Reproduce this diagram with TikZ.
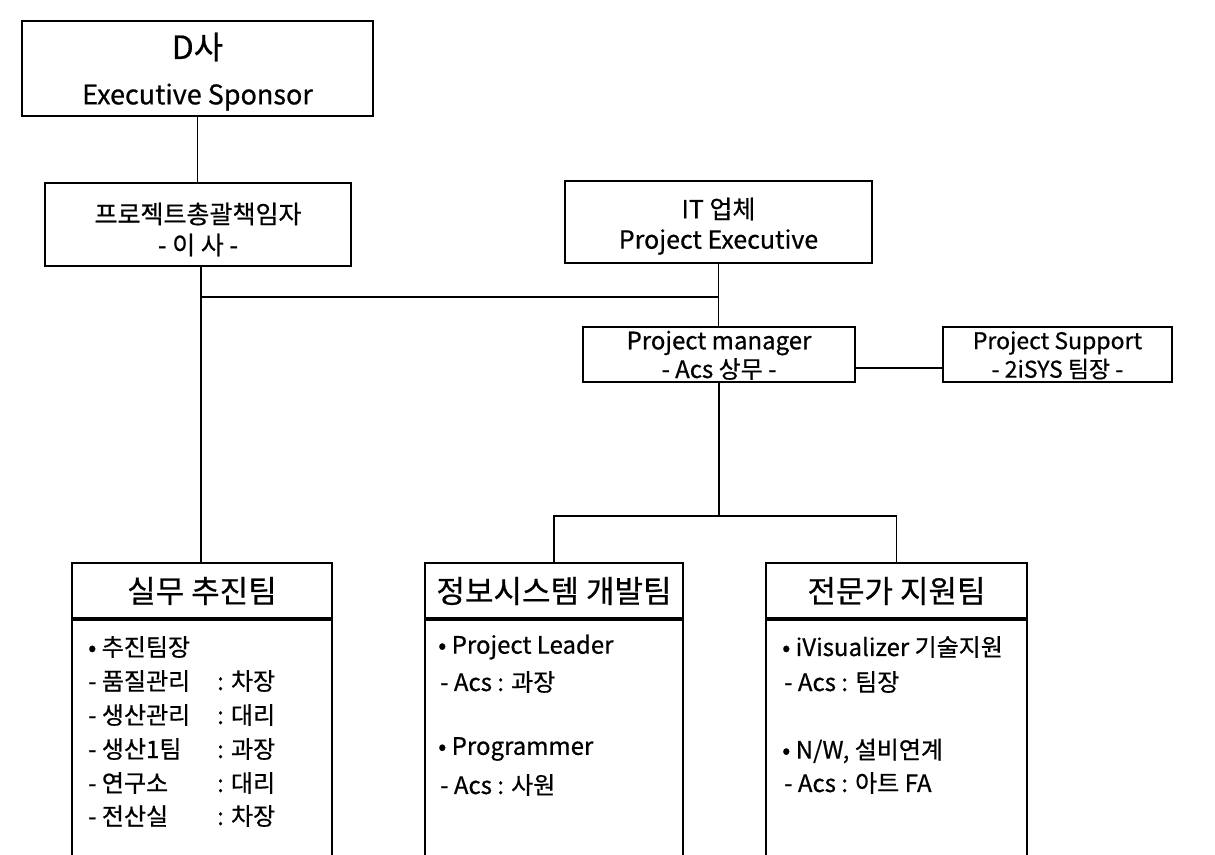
\documentclass[tikz,border=0pt]{standalone}
\usepackage{fontspec}
\setmainfont{Noto Sans CJK KR}[FakeBold=1]
\newfontfamily\gfont{Noto Sans CJK KR}[FakeBold=0.6]
\begin{document}
\begin{tikzpicture}[x=1pt,y=-1pt,
  box/.style={draw, line width=2pt, inner sep=0pt},
  conn/.style={line width=1.8pt},
  fs/.style={font=\gfont\fontsize{#1}{#1}\selectfont},
  txt/.style={inner sep=0pt, fs=25},
  ttl/.style={inner sep=0pt, fs=31},
  item/.style={inner sep=0pt, anchor=west, fs=24}]
\useasboundingbox (0,0) rectangle (1215,854);
\clip (0,0) rectangle (1215,854);
\fill[white] (0,0) rectangle (1215,854);

% top-left boxes
\node[box, minimum width=351pt, minimum height=95pt] (ds) at (197.5,68) {};
\node[txt, fs=32] (dsa) at (197.5,47) {D사};
\node[txt, fs=27] (dsb) at (197.5,97) {Executive Sponsor};

\node[box, minimum width=306pt, minimum height=83pt] (chief) at (198,224.5) {};
\node[txt] (chiefa) at (198,214) {프로젝트총괄책임자};
\node[txt] (chiefb) at (198,245) {- 이 사 -};

% IT vendor
\node[box, minimum width=307pt, minimum height=82pt] (it) at (718.5,222) {};
\node[txt] (ita) at (718.5,209) {IT 업체};
\node[txt] (itb) at (718.5,242) {Project Executive};

\node[box, minimum width=272pt, minimum height=55pt] (pm) at (719,354.5) {};
\node[txt, fs=24] (pma) at (719,343) {Project manager};
\node[txt, fs=24] (pmb) at (719,369) {- Acs 상무 -};

\node[box, minimum width=229pt, minimum height=55pt] (ps) at (1057.5,354.5) {};
\node[txt, fs=23] (psa) at (1057.5,343) {Project Support};
\node[txt, fs=23] (psb) at (1057.5,369) {- 2iSYS 팀장 -};

% team boxes
\node[box, minimum width=260pt, minimum height=55pt] (t1) at (202,590.5) {};
\node[box, minimum width=260pt, minimum height=282pt, anchor=north] (b1) at (t1.south) {};
\node[ttl] (t1t) at (202,591) {실무 추진팀};

\node[box, minimum width=258pt, minimum height=55pt] (t2) at (554,590.5) {};
\node[box, minimum width=258pt, minimum height=282pt, anchor=north] (b2) at (t2.south) {};
\node[ttl] (t2t) at (554,591) {정보시스템 개발팀};

\node[box, minimum width=261pt, minimum height=55pt] (t3) at (896.5,590.5) {};
\node[box, minimum width=261pt, minimum height=282pt, anchor=north] (b3) at (t3.south) {};
\node[ttl] (t3t) at (896.5,591) {전문가 지원팀};

% team 1 items
\node[item] (i1a) at (88,647) {• 추진팀장};
\node[item] (i1b) at (88,681) {- 품질관리};
\node[item] (i1c) at (88,715) {- 생산관리};
\node[item] (i1d) at (88,749) {- 생산1팀};
\node[item] (i1e) at (88,783) {- 연구소};
\node[item] (i1f) at (88,816) {- 전산실};
\node[item] (r1b) at (217,681) {: 차장};
\node[item] (r1c) at (217,715) {: 대리};
\node[item] (r1d) at (217,749) {: 과장};
\node[item] (r1e) at (217,783) {: 대리};
\node[item] (r1f) at (217,816) {: 차장};

% team 2 items
\node[item] (i2a) at (438,647) {• Project Leader};
\node[item] (i2b) at (440,682) {- Acs : 과장};
\node[item] (i2c) at (438,749) {• Programmer};
\node[item] (i2d) at (440,785) {- Acs : 사원};

% team 3 items
\node[item] (i3a) at (782,647) {• iVisualizer 기술지원};
\node[item] (i3b) at (784,682) {- Acs : 팀장};
\node[item] (i3c) at (782,751) {• N/W, 설비연계};
\node[item] (i3d) at (784,783) {- Acs : 아트 FA};

% connectors
\coordinate (j1) at (201,297);
\coordinate (j2) at (719,516);
\draw[conn] (ds.south) -- (chief.north -| ds.south);
\draw[conn] (chief.south -| j1) -- (t1.north -| j1);
\draw[conn] (it.south) -- (pm.north -| it.south);
\draw[conn] (j1) -- (j1 -| it.south);
\draw[conn] (pm.east |- 0,368) -- (ps.west |- 0,368);
\draw[conn] (pm.south) -- (j2);
\draw[conn] (t2.north) -- (t2.north |- j2) -- (t3.north |- j2) -- (t3.north);
\end{tikzpicture}
\end{document}
